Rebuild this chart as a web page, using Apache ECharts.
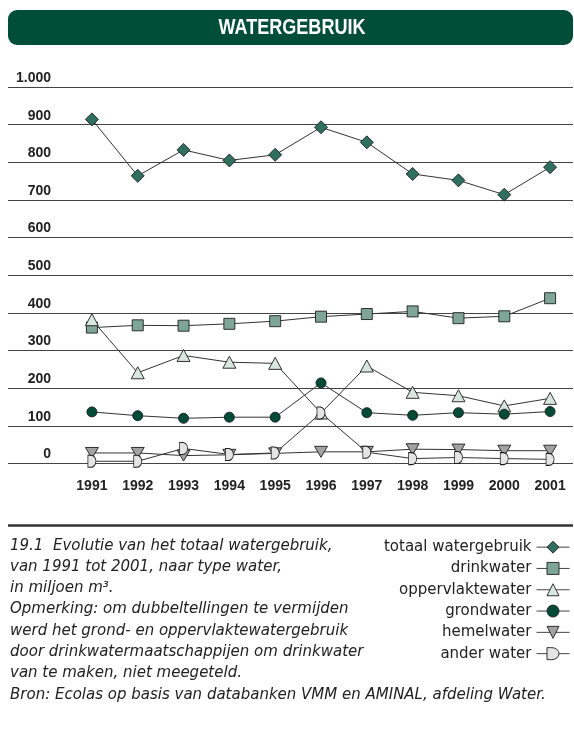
<!DOCTYPE html>
<html><head><meta charset="utf-8">
<script src="https://cdn.jsdelivr.net/npm/echarts@6/dist/echarts.min.js"></script>
<style>html,body{margin:0;padding:0;background:#fff}#c{width:574px;height:731px}</style>
</head><body><div id="c"></div>
<script>
const years = ['1991','1992','1993','1994','1995','1996','1997','1998','1999','2000','2001'];
const totaal = [914, 764, 833, 805, 820, 893, 853, 769, 752, 714, 787];
const drinkwater = [361, 367, 366, 371, 378, 390, 397, 404, 386, 391, 439];
const oppervlaktewater = [382, 241, 287, 269, 266, 134, 259, 189, 180, 153, 173];
const grondwater = [137, 127, 120, 123, 123, 214, 135, 128, 135, 131, 138];
const hemelwater = [28, 28, 21, 23, 27, 31, 31, 38, 37, 34, 34];
const anderWater = [6, 6, 40, 24, 28, 134, 30, 13, 16, 13, 11];
const yMin = 0, yMax = 1000, yStep = 100;
const names = ['totaal watergebruik','drinkwater','oppervlaktewater','grondwater','hemelwater','ander water'];
const titleText = 'WATERGEBRUIK';
const captionText = '19.1  Evolutie van het totaal watergebruik,\nvan 1991 tot 2001, naar type water,\nin miljoen m³.\nOpmerking: om dubbeltellingen te vermijden\nwerd het grond- en oppervlaktewatergebruik\ndoor drinkwatermaatschappijen om drinkwater\nvan te maken, niet meegeteld.\nBron: Ecolas op basis van databanken VMM en AMINAL, afdeling Water.';

const boldFont = "'Liberation Sans',Arial,sans-serif";
const dPath = 'path://M0,0 L4,0 A6,6 0 0 1 4,12 L0,12 Z';

function fmt(v){ return String(v).replace(/\B(?=(\d{3})+(?!\d))/g, '.'); }

function mk(name, data, symbol, size, fill, extra){
  return Object.assign({
    name: name, type: 'line', xAxisIndex: 1, yAxisIndex: 1, data: data,
    symbol: symbol, symbolSize: size, showSymbol: true,
    lineStyle: {color: '#333', width: 1},
    itemStyle: {color: fill, borderColor: '#1e1e1e', borderWidth: 0.9},
    emphasis: {disabled: true}
  }, extra || {});
}

const chart = echarts.init(document.getElementById('c'), null, {renderer: 'canvas'});
chart.setOption({
  animation: false,
  backgroundColor: '#fff',
  grid: [
    {left: 8, right: 1, top: 87, bottom: 267.5},
    {left: 69, right: 1, top: 87, bottom: 267.5}
  ],
  xAxis: [
    {type: 'value', gridIndex: 0, show: false, min: 0, max: 1},
    {type: 'category', gridIndex: 1, data: years, boundaryGap: true,
     axisLine: {show: false}, axisTick: {show: false},
     axisLabel: {interval: 0, hideOverlap: false, margin: 16, fontFamily: boldFont, fontWeight: 'bold', fontSize: 14, color: '#222'}}
  ],
  yAxis: [
    {type: 'value', gridIndex: 0, min: yMin, max: yMax, interval: yStep,
     axisLine: {show: false}, axisTick: {show: false},
     axisLabel: {inside: true, align: 'right', margin: 43, verticalAlign: 'bottom', padding: [0,0,2,0],
       formatter: fmt, fontFamily: boldFont, fontWeight: 'bold', fontSize: 14, color: '#222'},
     splitLine: {lineStyle: {color: '#444', width: 1.2}}},
    {type: 'value', gridIndex: 1, min: yMin, max: yMax, interval: yStep, show: false, splitLine: {show: false}}
  ],
  legend: {
    orient: 'vertical', right: 4, top: 536.5, align: 'right', padding: 0,
    itemWidth: 33, itemHeight: 15, itemGap: 0, selectedMode: false,
    lineStyle: {width: 1, color: '#444'},
    itemStyle: {borderWidth: 0.9, borderColor: '#1e1e1e'},
    textStyle: {fontFamily: "'DejaVu Sans',sans-serif", fontSize: 15, color: '#222', lineHeight: 21.3},
    data: names
  },
  graphic: [
    {type: 'rect', shape: {x: 8, y: 10, width: 565, height: 35, r: 9}, style: {fill: '#004d38'}},
    {type: 'text', x: 292, y: 28, scaleX: 0.82, style: {text: titleText, fill: '#fff', font: "bold 22px " + boldFont, align: 'center', verticalAlign: 'middle'}},
    {type: 'line', shape: {x1: 8, y1: 525.5, x2: 573, y2: 525.5}, style: {stroke: '#333', lineWidth: 2.5}},
    {type: 'text', x: 10, y: 535, style: {text: captionText, fill: '#222', font: "italic 15px 'DejaVu Sans',sans-serif", lineHeight: 21.3, align: 'left', verticalAlign: 'top'}}
  ],
  series: [
    mk(names[0], totaal, 'diamond', 13, '#2f6f5f'),
    mk(names[1], drinkwater, 'rect', 11, '#7fa598'),
    mk(names[2], oppervlaktewater, 'triangle', [13, 12], '#d9e5df'),
    mk(names[3], grondwater, 'circle', 10, '#004b35'),
    mk(names[4], hemelwater, 'triangle', [13, 11], '#a2a2a2', {symbolRotate: 180}),
    mk(names[5], anderWater, dPath, [8, 12], '#e4e4e4')
  ]
});
</script></body></html>
